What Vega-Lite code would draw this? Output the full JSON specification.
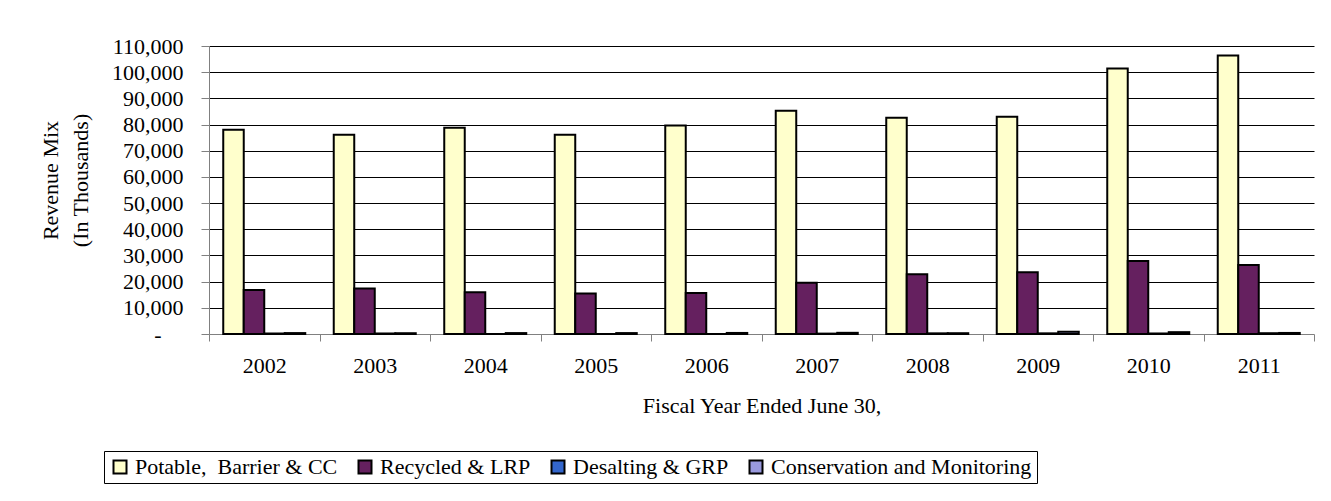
{
  "$schema": "https://vega.github.io/schema/vega-lite/v6.json",
  "width": 1105,
  "height": 288,
  "autosize": {"type": "none"},
  "padding": {"left": 209, "top": 46, "right": 17, "bottom": 167},
  "background": "white",
  "data": {
    "values": [
      {"year": "2002", "source": "Potable,  Barrier & CC", "value": 78000},
      {"year": "2002", "source": "Recycled & LRP", "value": 16800},
      {"year": "2002", "source": "Desalting & GRP", "value": 150},
      {"year": "2002", "source": "Conservation and Monitoring", "value": 350},
      {"year": "2003", "source": "Potable,  Barrier & CC", "value": 76100},
      {"year": "2003", "source": "Recycled & LRP", "value": 17400},
      {"year": "2003", "source": "Desalting & GRP", "value": 200},
      {"year": "2003", "source": "Conservation and Monitoring", "value": 300},
      {"year": "2004", "source": "Potable,  Barrier & CC", "value": 78800},
      {"year": "2004", "source": "Recycled & LRP", "value": 15900},
      {"year": "2004", "source": "Desalting & GRP", "value": 0},
      {"year": "2004", "source": "Conservation and Monitoring", "value": 350},
      {"year": "2005", "source": "Potable,  Barrier & CC", "value": 76100},
      {"year": "2005", "source": "Recycled & LRP", "value": 15500},
      {"year": "2005", "source": "Desalting & GRP", "value": 0},
      {"year": "2005", "source": "Conservation and Monitoring", "value": 350},
      {"year": "2006", "source": "Potable,  Barrier & CC", "value": 79600},
      {"year": "2006", "source": "Recycled & LRP", "value": 15700},
      {"year": "2006", "source": "Desalting & GRP", "value": 0},
      {"year": "2006", "source": "Conservation and Monitoring", "value": 400},
      {"year": "2007", "source": "Potable,  Barrier & CC", "value": 85300},
      {"year": "2007", "source": "Recycled & LRP", "value": 19600},
      {"year": "2007", "source": "Desalting & GRP", "value": 150},
      {"year": "2007", "source": "Conservation and Monitoring", "value": 450},
      {"year": "2008", "source": "Potable,  Barrier & CC", "value": 82600},
      {"year": "2008", "source": "Recycled & LRP", "value": 22800},
      {"year": "2008", "source": "Desalting & GRP", "value": 250},
      {"year": "2008", "source": "Conservation and Monitoring", "value": 300},
      {"year": "2009", "source": "Potable,  Barrier & CC", "value": 83000},
      {"year": "2009", "source": "Recycled & LRP", "value": 23600},
      {"year": "2009", "source": "Desalting & GRP", "value": 250},
      {"year": "2009", "source": "Conservation and Monitoring", "value": 900},
      {"year": "2010", "source": "Potable,  Barrier & CC", "value": 101400},
      {"year": "2010", "source": "Recycled & LRP", "value": 27900},
      {"year": "2010", "source": "Desalting & GRP", "value": 200},
      {"year": "2010", "source": "Conservation and Monitoring", "value": 700},
      {"year": "2011", "source": "Potable,  Barrier & CC", "value": 106400},
      {"year": "2011", "source": "Recycled & LRP", "value": 26400},
      {"year": "2011", "source": "Desalting & GRP", "value": 300},
      {"year": "2011", "source": "Conservation and Monitoring", "value": 400}
    ]
  },
  "mark": {"type": "bar", "stroke": "black", "strokeWidth": 2},
  "encoding": {
    "x": {
      "field": "year",
      "type": "nominal",
      "scale": {"paddingInner": 0, "paddingOuter": 0},
      "axis": {
        "title": "Fiscal Year Ended June 30,",
        "labelAngle": 0,
        "tickBand": "extent",
        "domainColor": "#808080",
        "tickColor": "#808080",
        "tickSize": 7,
        "labelPadding": 14,
        "labelFont": "Liberation Serif",
        "labelFontSize": 22,
        "labelColor": "black",
        "titleFont": "Liberation Serif",
        "titleFontSize": 22,
        "titleFontWeight": "normal",
        "titleColor": "black",
        "titlePadding": 19,
        "grid": false
      }
    },
    "xOffset": {
      "field": "source",
      "type": "nominal",
      "sort": ["Potable,  Barrier & CC", "Recycled & LRP", "Desalting & GRP", "Conservation and Monitoring"],
      "scale": {"paddingInner": 0, "paddingOuter": 0.695}
    },
    "y": {
      "field": "value",
      "type": "quantitative",
      "scale": {"domain": [0, 110000], "nice": false},
      "axis": {
        "title": ["Revenue Mix", "(In Thousands)"],
        "values": [0, 10000, 20000, 30000, 40000, 50000, 60000, 70000, 80000, 90000, 100000, 110000],
        "labelExpr": "datum.value === 0 ? '-' : format(datum.value, ',')",
        "labelFont": "Liberation Serif",
        "labelFontSize": 22,
        "labelColor": "black",
        "labelPadding": {"condition": {"test": "datum.value === 0", "value": 40}, "value": 18},
        "domainColor": "#808080",
        "tickColor": "#808080",
        "tickSize": 8,
        "grid": true,
        "gridColor": {"condition": {"test": "datum.value === 0", "value": "transparent"}, "value": "black"},
        "gridOpacity": 1,
        "titleFont": "Liberation Serif",
        "titleFontSize": 22,
        "titleFontWeight": "normal",
        "titleColor": "black",
        "titleLineHeight": 30,
        "titleX": -147,
        "titleY": 134
      }
    },
    "color": {
      "field": "source",
      "type": "nominal",
      "scale": {
        "domain": ["Potable,  Barrier & CC", "Recycled & LRP", "Desalting & GRP", "Conservation and Monitoring"],
        "range": ["#FFFFCC", "#65205F", "#3366CC", "#9999DD"]
      },
      "legend": {
        "title": null,
        "orient": "none",
        "direction": "horizontal",
        "legendX": -105,
        "legendY": 405,
        "strokeColor": "black",
        "padding": 5,
        "columnPadding": 16,
        "labelOffset": 4,
        "symbolType": "square",
        "symbolSize": 169,
        "symbolStrokeColor": "black",
        "symbolStrokeWidth": 2,
        "symbolOpacity": 1,
        "labelExpr": "replace(datum.label, '  ', '\u00a0 ')",
        "labelFont": "Liberation Serif",
        "labelFontSize": 22,
        "labelColor": "black",
        "labelLimit": 0
      }
    }
  },
  "config": {
    "view": {"stroke": null},
    "font": "Liberation Serif",
    "legend": {"labelFont": "Liberation Serif", "labelFontSize": 22}
  }
}
